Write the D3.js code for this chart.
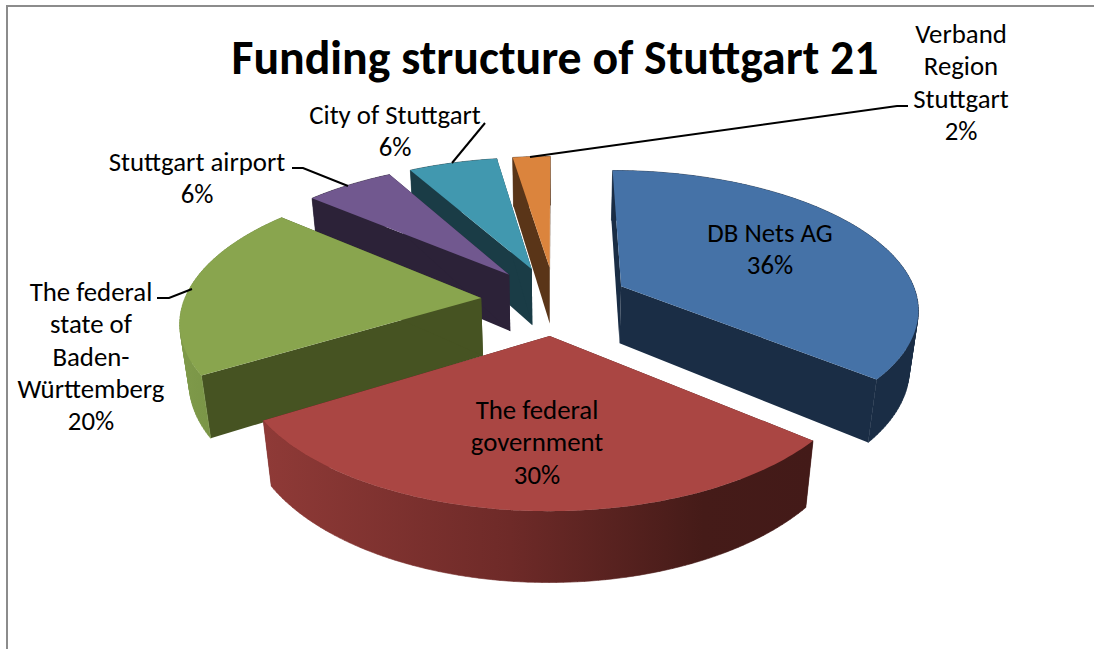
<!DOCTYPE html>
<html><head><meta charset="utf-8">
<script src="https://cdn.jsdelivr.net/npm/d3@7/dist/d3.min.js"></script>
<style>html,body{margin:0;padding:0;background:#fff}svg{display:block}text{font-family:Carlito,Lato,"Open Sans",sans-serif;fill:#000}</style>
</head><body><svg id="c" width="1094" height="649"></svg>
<script>
const title = "Funding structure of Stuttgart 21";
const categories = ["DB Nets AG","The federal government","The federal state of Baden-Württemberg","Stuttgart airport","City of Stuttgart","Verband Region Stuttgart"];
const shares = [36,30.2,20,5.7,5.7,2.4];
const topColors = ["#4572a7","#aa4643","#89a54e","#71588f","#4198af","#db843d"];
const cutColors = ["#1a2d45","#451b18","#465322","#2c2238","#1a3c46","#5a3518"];
const labelLines = [["DB Nets AG"],["The federal","government"],["The federal","state of","Baden-","Württemberg"],["Stuttgart airport"],["City of Stuttgart"],["Verband","Region","Stuttgart"]];
const labelAnchors = [[770,234],[537,411],[91,293],[197,163],[395,116],[961,35]];
const leaders = [null,null,[[157,298],[169,298],[192,289]],[[292,168],[303,168],[348,186]],[[485,123],[452,163]],[[908,106],[897,106],[530,157]]];

const svg = d3.select("#c");
const tilt = 0.15, depthShrink = 0.025, explode = 0.25, depthPx = 58;
const sx = d3.scaleLinear().domain([0,1]).range([555,852]);
const sy = d3.scaleLinear().domain([0,1]).range([300.5,437.5]);
function proj(X,Y,Z){
  const s = 1/(1 - tilt*Y);
  const sb = 1/(1 - tilt*Y + depthShrink*Z);
  return [sx(0)+(sx(X)-sx(0))*sb, sy(0)+(sy(Y)-sy(0))*s + depthPx*Z*s];
}
const pie = d3.pie().sort(null).value(d=>d).startAngle(0).endAngle(2*Math.PI);
const arcs = pie(shares);
const line = d3.line().curve(d3.curveLinear);
function rimPoint(a,ox,oy){ return [ox+Math.sin(a), oy-Math.cos(a)]; }
function rim(d,ox,oy){
  const n = Math.max(4,Math.ceil((d.endAngle-d.startAngle)/0.02));
  return d3.range(n+1).map(i=>rimPoint(d.startAngle+(d.endAngle-d.startAngle)*i/n,ox,oy));
}
const defs = svg.append("defs");
const wallStops = [
  [[0,"#1a2d45"],[1,"#1a2d45"]],
  [[0,"#8f3a37"],[0.45,"#6e2a28"],[0.8,"#451b18"],[1,"#431a18"]],
  [[0,"#7f9a4a"],[1,"#6f8a3f"]],
  [[0,"#2c2238"],[1,"#2c2238"]],
  [[0,"#1a3c46"],[1,"#1a3c46"]],
  [[0,"#5a3518"],[1,"#5a3518"]]
];
arcs.forEach((d,i)=>{
  const ox=explode*Math.sin((d.startAngle+d.endAngle)/2), oy=-explode*Math.cos((d.startAngle+d.endAngle)/2);
  const xs=rim(d,ox,oy).map(p=>proj(p[0],p[1],0)[0]);
  const g=defs.append("linearGradient").attr("id","w"+i).attr("gradientUnits","userSpaceOnUse")
    .attr("x1",d3.min(xs)).attr("x2",d3.max(xs)).attr("y1",0).attr("y2",0);
  wallStops[i].forEach(s=>g.append("stop").attr("offset",s[0]).attr("stop-color",s[1]));
});
const order = [5,4,3,2,0,1];
const slices = svg.append("g");
order.forEach(i=>{
  const d=arcs[i];
  const mid=(d.startAngle+d.endAngle)/2, ox=explode*Math.sin(mid), oy=-explode*Math.cos(mid);
  const r=rim(d,ox,oy), g=slices.append("g");
  const apex=[ox,oy], first=r[0], last=r[r.length-1];
  [first,last].forEach(p=>{
    g.append("path").attr("fill",cutColors[i]).attr("d",line([
      proj(apex[0],apex[1],0),proj(p[0],p[1],0),proj(p[0],p[1],1),proj(apex[0],apex[1],1)])+"Z");
  });
  // outer wall: one path of consistently wound quads, so it does not cancel where it folds and has no seams
  const wall = d3.pairs(r).map(([a,b])=>{
    const q=[proj(a[0],a[1],0),proj(b[0],b[1],0),proj(b[0],b[1],1),proj(a[0],a[1],1)];
    return line(d3.polygonArea(q)<0 ? q.reverse() : q)+"Z";
  }).join("");
  g.append("path").attr("fill",`url(#w${i})`).attr("stroke",`url(#w${i})`).attr("stroke-width",0.6).attr("d",wall);
  g.append("path").attr("fill",topColors[i]).attr("d",line(
    [proj(apex[0],apex[1],0)].concat(r.map(p=>proj(p[0],p[1],0))))+"Z");
});
svg.append("path").attr("fill","none").attr("stroke","#8c8c8c").attr("stroke-width",2)
  .attr("d","M7,649V6H1094");
svg.append("text").attr("x",555).attr("y",74).attr("text-anchor","middle")
  .attr("font-size",47.8).attr("font-weight",700).text(title);
leaders.forEach(l=>{ if(l) svg.append("path").attr("fill","none").attr("stroke","#000").attr("stroke-width",2).attr("d",line(l)); });
const lh=32.3;
labelLines.forEach((lines,i)=>{
  const t=svg.append("text").attr("text-anchor","middle").attr("font-size",26.8);
  const [x,y]=labelAnchors[i];
  lines.concat(d3.format(".0f")(shares[i])+"%").forEach((s,k)=>t.append("tspan").attr("x",x).attr("y",y+8+k*lh).text(s));
});
</script></body></html>
